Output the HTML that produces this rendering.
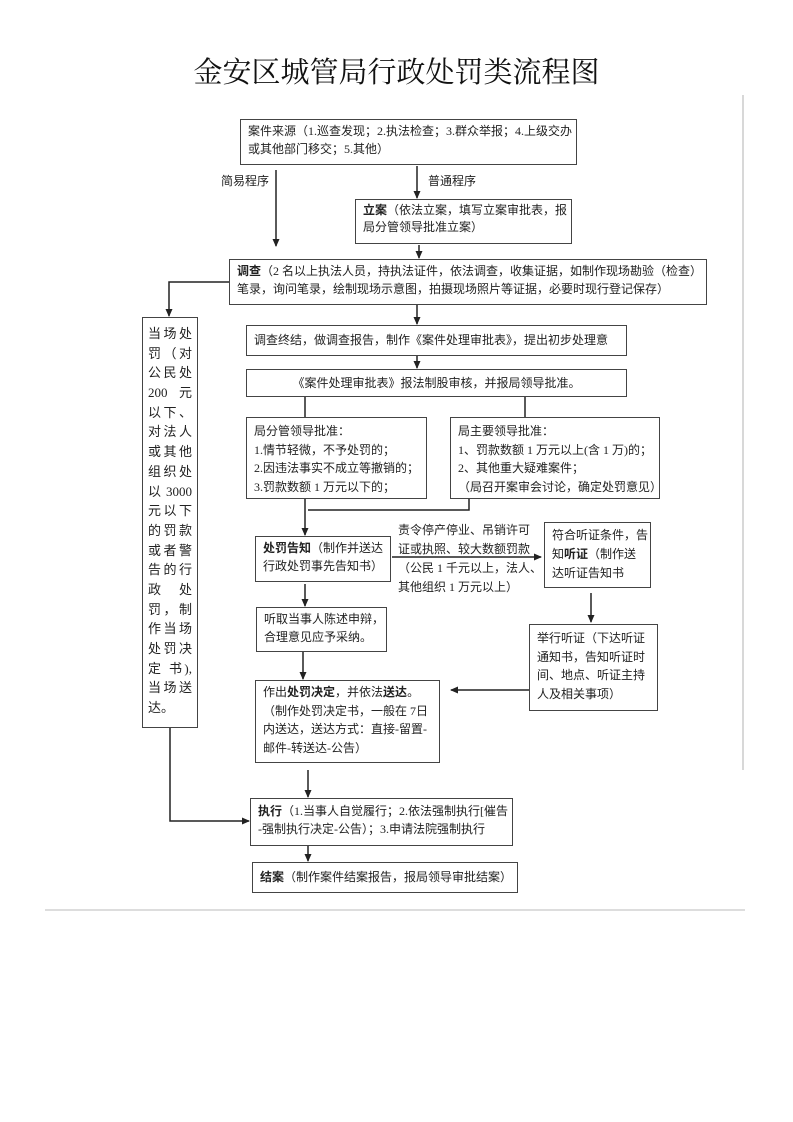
<!DOCTYPE html>
<html><head><meta charset="utf-8"><style>
body{margin:0;width:793px;height:1122px;background:#fff;position:relative;overflow:hidden;font-family:"Liberation Serif","Noto Serif CJK SC",serif;color:#222}
.t{position:absolute;left:0;width:793px;top:50px;text-align:center;font-size:29px;font-family:"Liberation Serif","Noto Serif CJK SC",serif;color:#111}
.b{position:absolute;border:1.5px solid #444;box-sizing:border-box;font-size:12px;line-height:18px;padding:2px 7px;white-space:nowrap;font-family:"Liberation Serif","Noto Sans CJK SC",sans-serif}
.l{position:absolute;font-size:12px;line-height:18px;white-space:nowrap;font-family:"Liberation Serif","Noto Sans CJK SC",sans-serif}
.v div{white-space:nowrap;text-align:justify;text-align-last:justify;height:19.7px}
.v div.n{text-align-last:left}
b{font-weight:bold}
svg{position:absolute;left:0;top:0}
</style></head><body>
<div class="t">金安区城管局行政处罚类流程图</div>
<svg width="793" height="1122">
<defs><marker id="a" markerWidth="8" markerHeight="8" refX="7" refY="4" orient="auto" markerUnits="userSpaceOnUse"><path d="M0,0.5 L8,4 L0,7.5 Z" fill="#222"/></marker></defs>
<g stroke="#222" stroke-width="1.5" fill="none">
<line x1="743" y1="95" x2="743" y2="770" stroke="#ccc"/>
<line x1="45" y1="910" x2="745" y2="910" stroke="#ddd" stroke-width="2"/>
<line x1="276" y1="170" x2="276" y2="246" marker-end="url(#a)"/>
<line x1="417" y1="166" x2="417" y2="198" marker-end="url(#a)"/>
<line x1="419" y1="245" x2="419" y2="258" marker-end="url(#a)"/>
<polyline points="229,282 169,282 169,316" marker-end="url(#a)"/>
<line x1="417" y1="305" x2="417" y2="324" marker-end="url(#a)"/>
<line x1="417" y1="355" x2="417" y2="368" marker-end="url(#a)"/>
<line x1="305" y1="396" x2="305" y2="417"/>
<line x1="525" y1="396" x2="525" y2="417"/>
<line x1="305" y1="498" x2="305" y2="535" marker-end="url(#a)"/>
<polyline points="469,499 469,510 308,510"/>
<line x1="392" y1="557" x2="541" y2="557" marker-end="url(#a)"/>
<line x1="591" y1="593" x2="591" y2="622" marker-end="url(#a)"/>
<line x1="529" y1="690" x2="451" y2="690" marker-end="url(#a)"/>
<line x1="305" y1="584" x2="305" y2="606" marker-end="url(#a)"/>
<line x1="303" y1="651" x2="303" y2="679" marker-end="url(#a)"/>
<line x1="308" y1="770" x2="308" y2="797" marker-end="url(#a)"/>
<polyline points="170,727 170,821 249,821" marker-end="url(#a)"/>
<line x1="308" y1="846" x2="308" y2="861" marker-end="url(#a)"/>
</g></svg>
<div class="b" style="left:240px;top:119px;width:337px;height:46px">案件来源（1.巡查发现；2.执法检查；3.群众举报；4.上级交办<br>或其他部门移交；5.其他）</div>
<div class="l" style="left:221px;top:172px">简易程序</div>
<div class="l" style="left:428px;top:172px">普通程序</div>
<div class="b" style="left:355px;top:199px;width:217px;height:45px;line-height:17px"><b>立案</b>（依法立案，填写立案审批表，报<br>局分管领导批准立案）</div>
<div class="b" style="left:229px;top:259px;width:478px;height:46px"><b>调查</b>（2 名以上执法人员，持执法证件，依法调查，收集证据，如制作现场勘验（检查）<br>笔录，询问笔录，绘制现场示意图，拍摄现场照片等证据，必要时现行登记保存）</div>
<div class="b v" style="left:142px;top:317px;width:56px;height:411px;font-size:13px;line-height:19.7px;padding:6px 5px"><div>当场处</div><div>罚（对</div><div>公民处</div><div>200 元</div><div>以下、</div><div>对法人</div><div>或其他</div><div>组织处</div><div>以3000</div><div>元以下</div><div>的罚款</div><div>或者警</div><div>告的行</div><div>政　处</div><div>罚，制</div><div>作当场</div><div>处罚决</div><div>定 书),</div><div>当场送</div><div class="n">达。</div></div>
<div class="b" style="left:246px;top:325px;width:381px;height:31px;line-height:25px">调查终结，做调查报告，制作《案件处理审批表》，提出初步处理意</div>
<div class="b" style="left:246px;top:369px;width:381px;height:28px;line-height:22px;text-align:center">《案件处理审批表》报法制股审核，并报局领导批准。</div>
<div class="b" style="left:246px;top:417px;width:181px;height:82px;line-height:18.5px;padding-top:4px">局分管领导批准：<br>1.情节轻微，不予处罚的；<br>2.因违法事实不成立等撤销的；<br>3.罚款数额 1 万元以下的；</div>
<div class="b" style="left:450px;top:417px;width:210px;height:82px;line-height:18.5px;padding-top:4px">局主要领导批准：<br>1、罚款数额 1 万元以上(含 1 万)的；<br>2、其他重大疑难案件；<br>（局召开案审会讨论，确定处罚意见）</div>
<div class="b" style="left:255px;top:536px;width:136px;height:46px"><b>处罚告知</b>（制作并送达<br>行政处罚事先告知书）</div>
<div class="l" style="left:398px;top:521px;line-height:19px">责令停产停业、吊销许可<br>证或执照、较大数额罚款<br>（公民 1 千元以上，法人、<br>其他组织 1 万元以上）</div>
<div class="b" style="left:544px;top:522px;width:107px;height:66px;line-height:19px;padding-top:3px">符合听证条件，告<br>知<b>听证</b>（制作送<br>达听证告知书</div>
<div class="b" style="left:529px;top:624px;width:129px;height:87px;line-height:18.5px;padding-top:4px">举行听证（下达听证<br>通知书，告知听证时<br>间、地点、听证主持<br>人及相关事项）</div>
<div class="b" style="left:256px;top:607px;width:131px;height:45px">听取当事人陈述申辩，<br>合理意见应予采纳。</div>
<div class="b" style="left:255px;top:680px;width:185px;height:83px;line-height:18.5px;padding-top:2px">作出<b>处罚决定</b>，并依法<b>送达</b>。<br>（制作处罚决定书，一般在 7日<br>内送达，送达方式：直接-留置-<br>邮件-转送达-公告）</div>
<div class="b" style="left:250px;top:798px;width:263px;height:48px;padding-top:3px"><b>执行</b>（1.当事人自觉履行；2.依法强制执行[催告<br>-强制执行决定-公告）；3.申请法院强制执行</div>
<div class="b" style="left:252px;top:862px;width:266px;height:31px;line-height:25px"><b>结案</b>（制作案件结案报告，报局领导审批结案）</div>
</body></html>
